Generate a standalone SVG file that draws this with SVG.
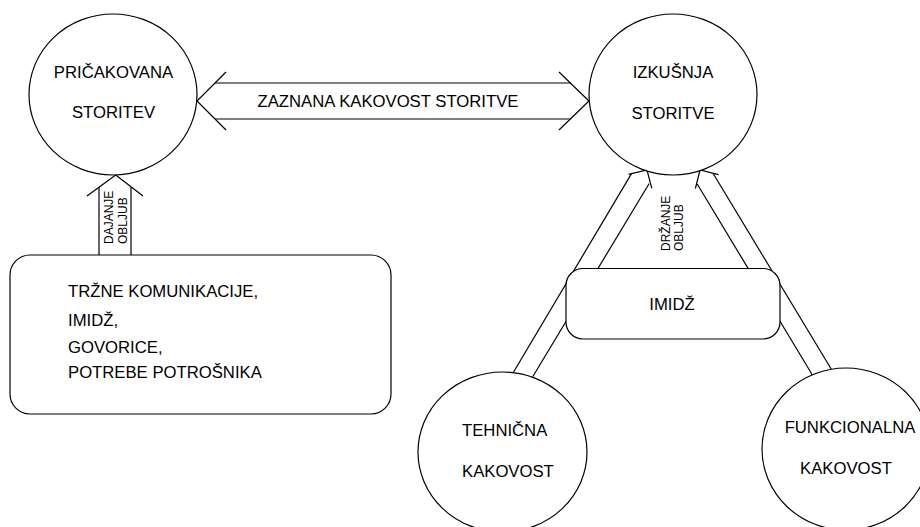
<svg xmlns="http://www.w3.org/2000/svg" width="920" height="527" viewBox="0 0 920 527">
<style>
.ln{fill:none;stroke:#000;stroke-width:1.2;stroke-linejoin:miter}
.nd{fill:#fff;stroke:#000;stroke-width:1.2}
.t{font-family:"Liberation Sans",Arial,sans-serif;font-size:16.7px;fill:#000}
.s{font-family:"Liberation Sans",Arial,sans-serif;font-size:12px;fill:#000}
.m{text-anchor:middle}
</style>
<rect width="920" height="527" fill="#fff"/>
<g id="connectors">
  <!-- double arrow ZAZNANA KAKOVOST STORITVE -->
  <g id="arrow-zaznana">
    <polyline class="ln" points="226,72 197,101 226,130"/>
    <polyline class="ln" points="559,72 589,101 559,130"/>
    <line class="ln" x1="215" y1="83" x2="571" y2="83"/>
    <line class="ln" x1="215" y1="119" x2="571" y2="119"/>
    <text class="t m" x="388" y="107">ZAZNANA KAKOVOST STORITVE</text>
  </g>
  <!-- vertical arrow DAJANJE OBLJUB -->
  <g id="arrow-dajanje">
    <polyline class="ln" points="87,196 115.7,175 143,196"/>
    <line class="ln" x1="99" y1="187" x2="99" y2="255"/>
    <line class="ln" x1="131" y1="187" x2="131" y2="255"/>
    <text class="s" transform="translate(113,244) rotate(-90)">DAJANJE</text>
    <text class="s" transform="translate(127,244) rotate(-90)">OBLJUB</text>
  </g>
  <!-- left diagonal arrow (tehnicna -> izkusnja) -->
  <g id="arrow-tehnicna">
    <polyline class="ln" points="628.5,174.3 647,170 651.8,188.3"/>
    <line class="ln" x1="631.5" y1="173.6" x2="513" y2="373"/>
    <line class="ln" x1="649.2" y1="183.5" x2="532.7" y2="376.7"/>
  </g>
  <!-- right diagonal arrow (funkcionalna -> izkusnja) -->
  <g id="arrow-funkcionalna">
    <polyline class="ln" points="695.4,188.5 700,170 718.5,174.6"/>
    <line class="ln" x1="713" y1="173.2" x2="833" y2="372"/>
    <line class="ln" x1="697.2" y1="184" x2="813" y2="376"/>
  </g>
  <text class="s" transform="translate(670,251) rotate(-90)">DRŽANJE</text>
  <text class="s" transform="translate(683,251) rotate(-90)">OBLJUB</text>
</g>
<g id="pricakovana">
  <ellipse class="nd" cx="113" cy="94.5" rx="84" ry="80.5"/>
  <text class="t m" x="113.5" y="78">PRIČAKOVANA</text>
  <text class="t m" x="113.5" y="118">STORITEV</text>
</g>
<g id="izkusnja">
  <ellipse class="nd" cx="673" cy="94.5" rx="84" ry="80.5"/>
  <text class="t m" x="673" y="78">IZKUŠNJA</text>
  <text class="t m" x="673" y="119">STORITVE</text>
</g>
<g id="trzne">
  <rect class="nd" x="10" y="255" width="381" height="159" rx="20" ry="20"/>
  <text class="t" x="68" y="297">TRŽNE KOMUNIKACIJE,</text>
  <text class="t" x="68" y="326">IMIDŽ,</text>
  <text class="t" x="68" y="353">GOVORICE,</text>
  <text class="t" x="68" y="378">POTREBE POTROŠNIKA</text>
</g>
<g id="imidz">
  <rect class="nd" x="566" y="268.5" width="214" height="70.5" rx="17" ry="17"/>
  <text class="t m" x="672" y="310">IMIDŽ</text>
</g>
<g id="tehnicna">
  <ellipse class="nd" cx="502.5" cy="452" rx="84.5" ry="80"/>
  <text class="t" x="462" y="436">TEHNIČNA</text>
  <text class="t" x="462" y="477">KAKOVOST</text>
</g>
<g id="funkcionalna">
  <ellipse class="nd" cx="846" cy="449" rx="84" ry="81"/>
  <text class="t m" x="850" y="433">FUNKCIONALNA</text>
  <text class="t m" x="846" y="474">KAKOVOST</text>
</g>
</svg>
